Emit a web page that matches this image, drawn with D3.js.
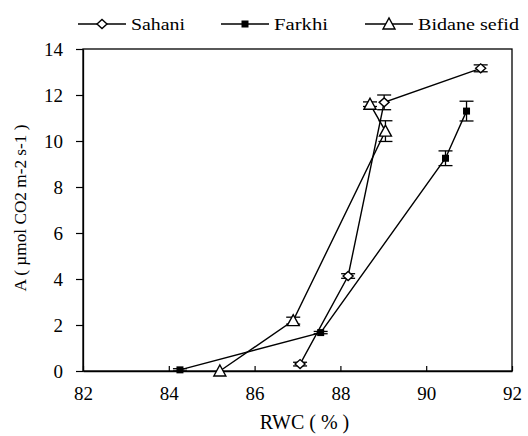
<!DOCTYPE html>
<html>
<head>
<meta charset="utf-8">
<script src="https://cdn.jsdelivr.net/npm/d3@7"></script>
<style>
  body { margin: 0; background: #fff; }
</style>
</head>
<body>
<svg id="chart"></svg>
<script>
// data
const seriesNames = ['Sahani', 'Farkhi', 'Bidane sefid'];
const sahaniRwc = [87.06, 88.18, 89.02, 91.27];
const sahaniA = [0.3, 4.13, 11.68, 13.16];
const sahaniErr = [0.08, 0.1, 0.32, 0.15];
const farkhiRwc = [84.26, 87.54, 90.45, 90.94];
const farkhiA = [0.05, 1.67, 9.25, 11.3];
const farkhiErr = [0.05, 0.05, 0.32, 0.43];
const bidaneRwc = [85.19, 86.9, 89.05, 88.69];
const bidaneA = [0.0, 2.19, 10.43, 11.6];
const bidaneErr = [0.0, 0.15, 0.45, 0.1];
const xTicks = [82, 84, 86, 88, 90, 92];
const yTicks = [0, 2, 4, 6, 8, 10, 12, 14];

const FONT = '"Liberation Serif", "Times New Roman", serif';

const config = {
  width: 528, height: 436,
  margin: { top: 49, right: 16, bottom: 65, left: 83 }
};

const series = [
  { name: seriesNames[0], marker: 'diamond', pts: sahaniRwc.map((x, i) => ({ x, y: sahaniA[i], e: sahaniErr[i] })) },
  { name: seriesNames[1], marker: 'square', pts: farkhiRwc.map((x, i) => ({ x, y: farkhiA[i], e: farkhiErr[i] })) },
  { name: seriesNames[2], marker: 'triangle', pts: bidaneRwc.map((x, i) => ({ x, y: bidaneA[i], e: bidaneErr[i] })) }
];

const w = config.width - config.margin.left - config.margin.right;
const h = config.height - config.margin.top - config.margin.bottom;

const svg = d3.select('#chart')
  .attr('width', config.width)
  .attr('height', config.height)
  .style('font-family', FONT);

const chart = svg.append('g')
  .attr('transform', `translate(${config.margin.left},${config.margin.top})`);

const xScale = d3.scaleLinear().domain([82, 92]).range([0, w]);
const yScale = d3.scaleLinear().domain([0, 14]).range([h, 0]);

// frame
chart.append('rect')
  .attr('width', w).attr('height', h)
  .attr('fill', 'none').attr('stroke', '#000').attr('stroke-width', 1.3);

// axes - x ticks point inward, y ticks outward
const xAxis = d3.axisBottom(xScale).tickValues(xTicks).tickSizeInner(-5).tickSizeOuter(0).tickPadding(16);
const yAxis = d3.axisLeft(yScale).tickValues(yTicks).tickSizeInner(7).tickSizeOuter(0).tickPadding(13);

const gx = chart.append('g').attr('transform', `translate(0,${h})`).call(xAxis);
const gy = chart.append('g').call(yAxis);
[gx, gy].forEach(g => {
  g.attr('font-family', null).attr('font-size', null);
  g.select('.domain').attr('stroke', '#000').attr('stroke-width', 1.3);
  g.selectAll('.tick line').attr('stroke', '#000').attr('stroke-width', 1.2);
  g.selectAll('.tick text')
    .style('font-family', FONT).style('font-size', '19px').attr('fill', '#000');
});

// axis titles
svg.append('text')
  .attr('x', config.margin.left + w / 2 + 7).attr('y', 429)
  .attr('text-anchor', 'middle')
  .style('font-family', FONT).style('font-size', '20px')
  .text('RWC ( % )');

svg.append('text')
  .attr('transform', 'translate(26,208) rotate(-90)')
  .attr('text-anchor', 'middle')
  .style('font-family', FONT).style('font-size', '17px')
  .attr('textLength', 167).attr('lengthAdjust', 'spacingAndGlyphs')
  .text('A ( µmol CO2 m-2 s-1 )');

// markers
function drawMarker(g, type) {
  if (type === 'diamond') {
    g.append('path').attr('d', 'M-5,0L0,-4.5L5,0L0,4.5Z')
      .attr('fill', '#fff').attr('stroke', '#000').attr('stroke-width', 1.4);
  } else if (type === 'square') {
    g.append('rect').attr('x', -3.5).attr('y', -3.5).attr('width', 7).attr('height', 7)
      .attr('fill', '#000');
  } else {
    g.append('path').attr('d', 'M-6,5L0,-6L6,5Z')
      .attr('fill', '#fff').attr('stroke', '#000').attr('stroke-width', 1.4);
  }
}

const line = d3.line().x(d => xScale(d.x)).y(d => yScale(d.y));

series.forEach(s => {
  chart.append('path')
    .datum(s.pts)
    .attr('d', line)
    .attr('fill', 'none')
    .attr('stroke', '#000')
    .attr('stroke-width', 1.4);
});

series.forEach(s => {
  const eb = chart.append('g');
  s.pts.filter(d => d.e > 0).forEach(d => {
    const cx = xScale(d.x);
    const y1 = yScale(d.y + d.e), y2 = yScale(d.y - d.e);
    eb.append('line').attr('x1', cx).attr('x2', cx).attr('y1', y1).attr('y2', y2)
      .attr('stroke', '#000').attr('stroke-width', 1.3);
    [y1, y2].forEach(yy => eb.append('line')
      .attr('x1', cx - 7).attr('x2', cx + 7).attr('y1', yy).attr('y2', yy)
      .attr('stroke', '#000').attr('stroke-width', 1.3));
  });
  chart.selectAll(null)
    .data(s.pts)
    .join('g')
    .attr('transform', d => `translate(${xScale(d.x)},${yScale(d.y)})`)
    .each(function () { drawMarker(d3.select(this), s.marker); });
});

// legend
const legendX = [78, 221, 365];
const legendTextLen = [54, 54, 101];
series.forEach((s, i) => {
  const lg = svg.append('g').attr('transform', `translate(${legendX[i]},24)`);
  lg.append('line').attr('x1', 0).attr('x2', 48).attr('stroke', '#000').attr('stroke-width', 1.4);
  drawMarker(lg.append('g').attr('transform', 'translate(24,0)'), s.marker);
  lg.append('text').attr('x', 53).attr('y', 5.5)
    .style('font-family', FONT).style('font-size', '17px')
    .attr('textLength', legendTextLen[i]).attr('lengthAdjust', 'spacingAndGlyphs')
    .text(s.name);
});
</script>
</body>
</html>
